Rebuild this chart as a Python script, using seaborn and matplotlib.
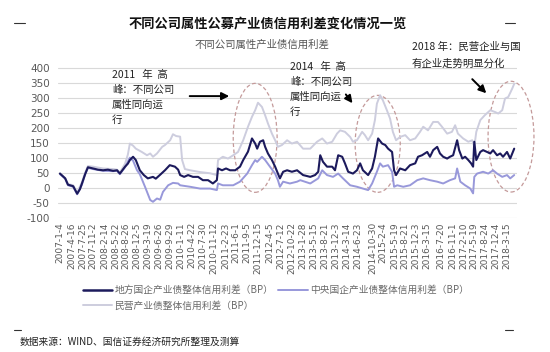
import matplotlib
matplotlib.use("Agg")
import matplotlib.pyplot as plt
import seaborn as sns
import pandas as pd
from datetime import date
from matplotlib.patches import Ellipse
from matplotlib.lines import Line2D

# ---------------- data (decimal year, spread in BP) ----------------
local_x = [2007.00, 2007.13, 2007.20, 2007.33, 2007.43, 2007.50, 2007.55, 2007.63, 2007.70, 2007.83,
           2007.95, 2008.08, 2008.20, 2008.33, 2008.43, 2008.50, 2008.63, 2008.70, 2008.75, 2008.83,
           2008.90, 2009.00, 2009.10, 2009.20, 2009.33, 2009.40, 2009.50, 2009.63, 2009.75, 2009.88,
           2009.96, 2010.01, 2010.11, 2010.21, 2010.33, 2010.46, 2010.58, 2010.71, 2010.83, 2010.93,
           2010.96, 2011.06, 2011.16, 2011.26, 2011.39, 2011.51, 2011.59, 2011.71, 2011.81, 2011.89,
           2011.94, 2012.01, 2012.09, 2012.14, 2012.21, 2012.31, 2012.39, 2012.46, 2012.51, 2012.59,
           2012.69, 2012.81, 2012.94, 2013.09, 2013.27, 2013.39, 2013.47, 2013.52, 2013.59, 2013.69,
           2013.82, 2013.89, 2013.97, 2014.07, 2014.14, 2014.22, 2014.34, 2014.44, 2014.52, 2014.59,
           2014.72, 2014.82, 2014.89, 2014.97, 2015.07, 2015.15, 2015.22, 2015.32, 2015.37, 2015.42,
           2015.52, 2015.65, 2015.77, 2015.90, 2015.97, 2016.07, 2016.20, 2016.27, 2016.35, 2016.45,
           2016.52, 2016.60, 2016.70, 2016.77, 2016.85, 2016.95, 2017.00, 2017.08, 2017.15, 2017.23,
           2017.30, 2017.35, 2017.38, 2017.43, 2017.53, 2017.60, 2017.70, 2017.78, 2017.85, 2017.95,
           2018.03, 2018.10, 2018.20, 2018.28, 2018.38]
local_y = [47, 31, 10, 5, -20, -5, 14, 45, 68, 64,
           60, 58, 60, 56, 58, 47, 70, 80, 92, 103,
           92, 58, 42, 31, 36, 30, 42, 58, 75, 70,
           60, 42, 36, 42, 36, 36, 25, 25, 14, 25,
           64, 58, 64, 58, 58, 70, 92, 120, 164, 147,
           130, 153, 158, 136, 114, 92, 70, 47, 31, 53,
           58, 53, 58, 42, 36, 42, 53, 108, 86, 70,
           70, 58, 108, 103, 81, 53, 47, 58, 81, 58,
           42, 64, 103, 164, 147, 142, 130, 119, 58, 42,
           64, 58, 75, 81, 103, 108, 119, 103, 125, 136,
           114, 103, 97, 103, 108, 158, 125, 97, 103, 92,
           81, 70, 153, 92, 119, 125, 119, 114, 125, 108,
           114, 103, 119, 97, 130]

central_x = [2007.00, 2007.13, 2007.20, 2007.33, 2007.43, 2007.55, 2007.63, 2007.70, 2007.83, 2008.08,
             2008.33, 2008.43, 2008.50, 2008.63, 2008.75, 2008.83, 2008.93, 2009.00, 2009.13, 2009.26,
             2009.33, 2009.43, 2009.51, 2009.58, 2009.71, 2009.83, 2009.96, 2010.01, 2010.26, 2010.51,
             2010.76, 2010.93, 2010.96, 2011.08, 2011.34, 2011.51, 2011.69, 2011.81, 2011.89, 2011.94,
             2012.06, 2012.14, 2012.26, 2012.39, 2012.46, 2012.51, 2012.59, 2012.76, 2012.94, 2013.02,
             2013.27, 2013.47, 2013.57, 2013.69, 2013.84, 2013.97, 2014.09, 2014.27, 2014.44, 2014.59,
             2014.72, 2014.82, 2014.94, 2015.02, 2015.09, 2015.22, 2015.32, 2015.37, 2015.45, 2015.60,
             2015.77, 2015.95, 2016.10, 2016.27, 2016.45, 2016.60, 2016.77, 2016.90, 2016.95, 2017.03,
             2017.15, 2017.28, 2017.35, 2017.38, 2017.45, 2017.60, 2017.73, 2017.85, 2017.95, 2018.08,
             2018.20, 2018.28, 2018.38]
central_y = [45, 30, 8, 3, -22, 10, 45, 66, 62, 56,
             55, 56, 45, 68, 100, 90, 58, 45, 3, -41,
             -47, -36, -40, -14, 8, 16, 14, 8, 3, -3,
             -3, -8, 14, 8, 8, 20, 47, 75, 92, 86,
             103, 92, 70, 47, 25, 3, 20, 14, 20, 25,
             14, 31, 58, 42, 36, 47, 31, 8, 3, -3,
             -8, 14, 53, 81, 70, 75, 53, 3, 8, 3,
             8, 25, 31, 25, 20, 14, 25, 31, 64, 20,
             8, -3, -19, 36, 47, 53, 47, 58, 47, 36,
             42, 31, 42]

private_x = [2007.00, 2007.13, 2007.20, 2007.33, 2007.43, 2007.55, 2007.63, 2007.70, 2007.83, 2008.08,
             2008.33, 2008.43, 2008.50, 2008.63, 2008.70, 2008.75, 2008.83, 2008.90, 2009.05, 2009.18,
             2009.26, 2009.33, 2009.43, 2009.56, 2009.63, 2009.76, 2009.83, 2009.91, 2010.01, 2010.06,
             2010.13, 2010.26, 2010.51, 2010.76, 2010.93, 2010.96, 2011.08, 2011.21, 2011.34, 2011.46,
             2011.59, 2011.71, 2011.81, 2011.89, 2011.96, 2012.06, 2012.14, 2012.21, 2012.31, 2012.39,
             2012.46, 2012.56, 2012.69, 2012.81, 2012.94, 2013.09, 2013.27, 2013.44, 2013.57, 2013.69,
             2013.82, 2013.94, 2014.02, 2014.14, 2014.27, 2014.34, 2014.44, 2014.57, 2014.64, 2014.72,
             2014.82, 2014.89, 2014.94, 2015.02, 2015.09, 2015.19, 2015.27, 2015.34, 2015.42, 2015.52,
             2015.65, 2015.77, 2015.90, 2016.02, 2016.10, 2016.22, 2016.35, 2016.47, 2016.57, 2016.70,
             2016.82, 2016.90, 2016.97, 2017.10, 2017.23, 2017.33, 2017.38, 2017.43, 2017.53, 2017.64,
             2017.78, 2017.90, 2017.98, 2018.08, 2018.15, 2018.23, 2018.33, 2018.38]
private_y = [48, 32, 12, 8, -16, 18, 50, 72, 70, 64,
             62, 60, 50, 80, 110, 147, 140, 130, 119, 108,
             114, 103, 114, 136, 142, 158, 178, 172, 170, 92,
             62, 58, 52, 48, 42, 92, 103, 97, 108, 119,
             158, 203, 236, 258, 283, 269, 241, 214, 180, 158,
             136, 142, 158, 147, 153, 130, 130, 153, 164, 147,
             153, 180, 191, 186, 169, 153, 158, 186, 175, 158,
             180, 225, 280, 308, 291, 258, 230, 186, 158, 169,
             175, 158, 164, 186, 203, 191, 219, 219, 203, 180,
             186, 208, 180, 164, 153, 158, 136, 186, 225, 241,
             258, 252, 247, 258, 297, 302, 330, 346]

series_names = ["地方国企产业债整体信用利差（BP）",
                "中央国企产业债整体信用利差（BP）",
                "民营产业债整体信用利差（BP）"]
series_colors = ["#1c1a5c", "#9898da", "#cdcdde"]

yticks = [-100, -50, 0, 50, 100, 150, 200, 250, 300, 350, 400]
xtick_labels = ["2007-1-4", "2007-4-16", "2007-7-25", "2007-11-2", "2008-2-14", "2008-5-22",
                "2008-8-26", "2008-12-5", "2009-3-19", "2009-6-26", "2009-9-29", "2010-1-11",
                "2010-4-22", "2010-7-30", "2010-11-12", "2011-2-23", "2011-6-1", "2011-9-5",
                "2011-12-15", "2012-4-5", "2012-7-12", "2012-10-22", "2013-1-28", "2013-5-15",
                "2013-8-21", "2013-12-3", "2014-3-14", "2014-6-23", "2014-10-30", "2015-2-4",
                "2015-5-19", "2015-8-21", "2015-12-3", "2016-3-15", "2016-7-20", "2016-11-1",
                "2017-2-10", "2017-5-19", "2017-8-24", "2017-12-4", "2018-3-15"]

title = "不同公司属性公募产业债信用利差变化情况一览"
subtitle = "不同公司属性产业债信用利差"
source = "数据来源：WIND、国信证券经济研究所整理及测算"
note_2011 = ["2011   年  高", "峰：不同公司", "属性同向运", "行"]
note_2014 = ["2014   年  高", "峰：不同公司", "属性同向运", "行"]
note_2018 = ["2018 年：民营企业与国", "有企业走势明显分化"]

# ---------------- styling ----------------
sns.set_style("white")
plt.rcParams["font.family"] = ["Noto Sans CJK SC", "DejaVu Sans"]

W, H = 550, 352
fig = plt.figure(figsize=(W / 100, H / 100), dpi=100)
ax = fig.add_axes([58 / W, 1 - 218 / H, (517 - 58) / W, (218 - 67.3) / H])


def fx(px):
    return px / W


def fy(py):
    return 1 - py / H


frames = []
for name, xs, ys in zip(series_names, [local_x, central_x, private_x],
                        [local_y, central_y, private_y]):
    frames.append(pd.DataFrame({"t": xs, "v": ys, "s": name}))
df = pd.concat(frames, ignore_index=True)

# draw lighter series first so the dark one is on top
order = [series_names[2], series_names[1], series_names[0]]
pal = dict(zip(series_names, series_colors))
for name in order:
    sub = df[df["s"] == name]
    sns.lineplot(data=sub, x="t", y="v", ax=ax, color=pal[name],
                 linewidth=1.5 if name == series_names[0] else 1.4,
                 estimator=None, sort=True, legend=False)

ax.set_xlim(2006.95, 2018.45)
ax.set_ylim(-101, 401)
ax.set_xlabel("")
ax.set_ylabel("")
for sp in ax.spines.values():
    sp.set_visible(False)
ax.set_yticks(yticks)
ax.set_yticklabels([str(v) for v in yticks])
ax.yaxis.grid(True, color="#d9d9d9", linewidth=0.8)
ax.xaxis.grid(False)
ax.set_axisbelow(True)


def to_year(s):
    y, m, d = map(int, s.split("-"))
    return y + (date(y, m, d).toordinal() - date(y, 1, 1).toordinal()) / 365.25


ax.set_xticks([to_year(s) for s in xtick_labels])
ax.set_xticklabels(xtick_labels, rotation=90, fontsize=6.5, color="#595959",
                   family=["DejaVu Sans"])
ax.tick_params(axis="x", length=0, pad=3)
ax.tick_params(axis="y", length=0, pad=6, labelsize=7.5, labelcolor="#595959")
for lab in ax.get_yticklabels():
    lab.set_family(["DejaVu Sans"])

# ellipses (dashed) around the highlighted periods
ell_color = "#c49a9a"
for cx, cy, w, h in [(2011.89, 166, 1.10, 363), (2014.96, 146, 1.13, 323), (2018.30, 170, 1.15, 369)]:
    e = Ellipse((cx, cy), w, h, fill=False, edgecolor=ell_color, linestyle=(0, (3, 2)),
                linewidth=0.9, clip_on=False)
    ax.add_patch(e)

# arrows
arrow_kw = dict(arrowstyle="-|>", color="black", lw=1.4, mutation_scale=11)
ax.annotate("", xy=(2011.31, 305), xytext=(2010.18, 305), arrowprops=arrow_kw, annotation_clip=False)
ax.annotate("", xy=(2014.37, 274), xytext=(2014.12, 318), arrowprops=arrow_kw, annotation_clip=False)
ax.annotate("", xy=(2017.73, 308), xytext=(2017.28, 368), arrowprops=arrow_kw, annotation_clip=False)

# annotation texts
for i, line in enumerate(note_2011):
    fig.text(fx(112), fy(75 + 15 * i), line, fontsize=7.5, color="#222222", va="center", ha="left")
for i, line in enumerate(note_2014):
    fig.text(fx(290), fy(67 + 15 * i), line, fontsize=7.5, color="#222222", va="center", ha="left")
for i, line in enumerate(note_2018):
    fig.text(fx(412), fy(47 + 17 * i), line, fontsize=7.5, color="#222222", va="center", ha="left")

# titles
fig.text(fx(268), fy(23), title, fontsize=9.5, fontweight="bold", color="#111111", ha="center", va="center")
fig.text(fx(262), fy(45), subtitle, fontsize=7.5, color="#555555", ha="center", va="center")
fig.text(fx(20), fy(342), source, fontsize=7, color="#222222", ha="left", va="center")

# small border dashes (document table marks)
for (x0, x1, yy) in [(14, 25, 23), (505, 515, 23), (14, 21, 330), (505, 513, 330)]:
    fig.add_artist(Line2D([fx(x0), fx(x1)], [fy(yy), fy(yy)], color="#333333", linewidth=0.8))

# legend
handles = [Line2D([], [], color=series_colors[0], linewidth=1.8),
           Line2D([], [], color=series_colors[2], linewidth=1.4),
           Line2D([], [], color=series_colors[1], linewidth=1.4)]
labels = [series_names[0], series_names[2], series_names[1]]
leg = fig.legend(handles, labels, ncol=2, loc="upper left", bbox_to_anchor=(fx(83), fy(285)),
                 frameon=False, fontsize=7, handlelength=3.0, handletextpad=0.25,
                 columnspacing=0.5, labelspacing=0.6, borderaxespad=0, borderpad=0)
for t in leg.get_texts():
    t.set_color("#6a6a6a")

fig.savefig("out.png", dpi=100, facecolor="white")
